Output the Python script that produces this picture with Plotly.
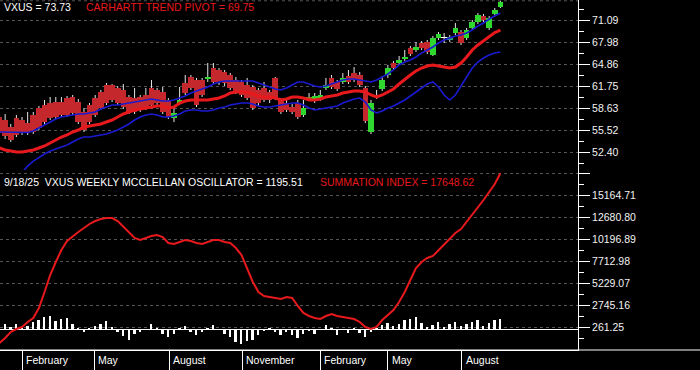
import pandas as pd
import plotly.graph_objects as go

# ---------------- data ----------------
week_dates = pd.date_range("2024-01-04", periods=90, freq="7D")

opens = [57.45, 57.03, 56.04, 57.31, 57.03, 56.60, 57.74, 58.73, 59.15, 59.44,
         59.58, 59.58, 60.14, 60.29, 59.58, 58.16, 59.15, 60.14, 60.99, 61.99,
         61.99, 61.56, 61.28, 60.29, 60.14, 60.29, 60.57, 61.56, 61.28, 60.99,
         59.86, 57.31, 59.44, 62.27, 63.12, 62.69, 62.69, 62.83, 64.39, 64.11,
         63.83, 63.40, 62.69, 62.41, 61.99, 61.70, 61.28, 61.56, 60.99, 62.98,
         59.86, 59.44, 58.87, 59.44, 57.74, 59.86, 59.72, 59.86, 61.56, 62.98,
         62.41, 62.41, 63.26, 63.68, 63.40, 61.56, 55.33, 60.29, 61.42, 63.40,
         65.10, 65.10, 65.67, 67.22, 66.94, 67.93, 68.07, 66.23, 68.64, 68.64,
         68.36, 69.35, 69.49, 68.64, 70.06, 70.90, 71.75, 70.06, 72.04, 73.03]
highs = [58.16, 57.88, 56.46, 57.74, 57.45, 58.16, 58.16, 59.01, 59.86, 60.29,
         60.29, 60.29, 60.43, 60.57, 60.00, 58.73, 59.44, 60.57, 61.28, 62.27,
         62.13, 61.84, 62.13, 60.57, 61.56, 60.57, 61.56, 62.69, 61.56, 61.70,
         60.14, 58.73, 61.70, 63.40, 63.40, 62.98, 62.98, 65.10, 65.10, 64.39,
         64.11, 63.68, 63.12, 62.69, 62.98, 61.99, 61.56, 62.41, 61.28, 63.12,
         60.14, 59.86, 59.29, 59.86, 59.86, 60.85, 60.85, 61.28, 62.98, 63.40,
         62.69, 63.68, 64.11, 64.53, 63.83, 61.84, 59.86, 61.28, 63.26, 64.82,
         65.38, 66.09, 66.94, 67.51, 68.07, 68.21, 68.36, 68.92, 69.49, 69.35,
         69.06, 70.76, 69.77, 70.06, 71.19, 72.18, 72.04, 71.75, 72.89, 73.88]
lows = [54.76, 54.34, 53.92, 54.62, 54.91, 54.91, 55.05, 55.61, 56.46, 57.03,
        57.17, 57.45, 57.45, 57.74, 56.46, 55.33, 56.46, 57.45, 58.45, 59.15,
        59.58, 59.15, 58.59, 57.88, 57.88, 58.16, 58.45, 58.87, 59.15, 57.88,
        57.17, 56.75, 59.15, 60.57, 61.28, 58.87, 60.29, 62.41, 62.13, 61.99,
        61.84, 61.28, 60.71, 60.29, 59.86, 58.45, 59.01, 59.58, 59.44, 59.86,
        57.88, 58.16, 57.88, 57.17, 57.45, 59.72, 59.44, 59.72, 61.28, 61.42,
        61.14, 62.13, 62.13, 62.41, 61.70, 56.60, 55.05, 60.00, 61.14, 62.98,
        64.11, 64.82, 65.38, 66.09, 66.66, 66.94, 66.37, 66.09, 68.36, 67.93,
        68.07, 69.06, 67.65, 68.36, 69.77, 70.62, 70.90, 69.77, 71.90, 72.89]
closes = [55.19, 54.76, 54.20, 54.91, 55.19, 55.19, 55.33, 55.90, 56.75, 57.31,
          57.45, 57.74, 57.74, 58.02, 56.75, 55.61, 56.75, 57.74, 58.73, 59.44,
          59.86, 59.44, 58.87, 58.16, 58.16, 58.45, 58.73, 59.15, 59.44, 58.16,
          57.45, 58.02, 59.86, 60.85, 61.56, 59.15, 60.57, 63.12, 62.41, 62.41,
          62.27, 61.56, 60.99, 60.57, 60.14, 58.73, 59.44, 59.86, 59.86, 60.29,
          58.16, 58.45, 58.16, 57.45, 58.73, 60.29, 60.43, 60.57, 61.99, 61.70,
          61.42, 62.98, 62.41, 62.69, 61.99, 56.89, 59.44, 60.57, 62.69, 64.39,
          64.39, 65.52, 65.95, 66.37, 67.37, 67.22, 66.66, 68.64, 69.21, 68.70,
          68.78, 70.06, 67.93, 69.77, 70.90, 71.90, 71.19, 71.47, 72.60, 73.73]
candle_kind = (["r"] * 31 + ["g", "g"] + ["r"] * 4 + ["g"] + ["r"] * 16 +
               ["g", "o", "g", "g", "g", "r", "r", "g", "r", "r", "r", "r", "g", "o",
                "g", "g", "r", "g", "g", "r", "g", "r", "r", "g", "g", "w", "t", "g",
                "r", "g", "g", "g", "r", "g", "g", "g"])

fast_line = [55.33, 55.33, 55.33, 55.33, 55.33, 55.26, 55.47, 55.90, 56.32, 56.75,
             57.17, 57.45, 57.60, 57.74, 57.88, 57.88, 58.02, 58.16, 58.59, 58.87,
             59.15, 59.15, 59.29, 59.44, 59.58, 59.72, 59.86, 60.00, 59.86, 59.72,
             59.72, 59.86, 60.14, 60.43, 60.85, 61.14, 61.42, 61.70, 62.13, 62.41,
             62.55, 62.55, 62.55, 62.55, 62.55, 62.55, 62.27, 61.99, 61.70, 61.42,
             61.28, 61.56, 61.99, 62.41, 62.41, 62.13, 61.84, 61.70, 61.84, 62.13,
             62.41, 62.69, 62.83, 62.83, 62.69, 62.55, 62.41, 62.69, 63.12, 63.54,
             64.11, 64.82, 65.24, 65.52, 65.95, 66.52, 66.94, 67.37, 67.93, 68.36,
             68.64, 68.92, 69.06, 69.35, 69.77, 70.34, 70.76, 71.33, 71.75, 72.18]
pivot_line = [53.06, 52.78, 52.64, 52.50, 52.50, 52.64, 52.78, 53.06, 53.35, 53.77,
              54.20, 54.62, 54.91, 55.33, 55.61, 56.04, 56.18, 56.32, 56.46, 56.75,
              57.03, 57.45, 57.88, 58.16, 58.45, 58.59, 58.73, 58.87, 59.01, 59.01,
              58.73, 58.87, 59.44, 59.72, 59.86, 59.86, 59.86, 59.86, 60.00, 60.14,
              60.43, 60.85, 60.99, 60.99, 60.99, 60.71, 60.43, 60.29, 60.29, 60.14,
              59.86, 60.00, 60.29, 60.29, 60.14, 59.86, 59.86, 60.00, 60.29, 60.43,
              60.57, 60.85, 60.99, 61.14, 61.14, 60.99, 60.57, 60.29, 60.57, 60.99,
              61.42, 62.13, 62.83, 63.40, 63.97, 64.39, 64.68, 64.82, 64.68, 64.53,
              64.39, 64.53, 65.10, 65.95, 66.94, 67.65, 68.21, 68.90, 69.40, 69.75]
slow_line = [47.10, 47.80, 48.50, 49.10, 49.60, 50.50, 51.20, 51.75, 52.21, 52.64,
             52.92, 53.21, 53.49, 53.92, 54.34, 54.62, 54.62, 54.76, 54.91, 55.05,
             55.33, 55.61, 56.04, 56.46, 57.03, 57.45, 57.74, 57.88, 57.74, 57.45,
             57.45, 57.60, 57.88, 58.30, 58.45, 58.45, 58.30, 58.30, 58.45, 58.73,
             58.87, 59.15, 59.29, 59.44, 59.44, 59.29, 59.01, 58.87, 58.87, 59.01,
             59.15, 59.29, 59.44, 59.44, 59.15, 58.73, 58.45, 58.59, 58.73, 58.87,
             59.01, 59.44, 59.72, 60.00, 60.14, 59.58, 58.45, 58.02, 58.30, 58.73,
             59.01, 59.44, 59.86, 60.43, 60.99, 61.56, 62.13, 62.41, 61.70, 60.57,
             59.86, 60.57, 61.84, 63.12, 64.39, 65.24, 65.81, 66.23, 66.52, 66.66]

summation = [-1511, -947, -269, 69, 295, 860, 1311, 2440, 4247, 6166,
             7634, 8989, 10005, 10569, 11021, 11472, 11924, 12262, 12488, 12601,
             12601, 12262, 11585, 10908, 10343, 10117, 10343, 10569, 10682, 10456,
             9779, 9666, 9892, 10117, 10005, 9779, 9666, 9892, 10117, 10117,
             9892, 9779, 9214, 8424, 6956, 5376, 4247, 3795, 3682, 3569,
             3456, 3682, 3569, 2666, 1876, 1537, 1311, 1198, 1537, 1763,
             1537, 1424, 1311, 1198, 860, 295, 69, 295, 1085, 1650,
             2214, 3118, 4247, 5601, 6956, 7634, 8085, 8311, 8989, 9666,
             10343, 10908, 11359, 12150, 12940, 13843, 14633, 15536, 16440, 17648.62]
oscillator = [450, 680, 340, 620, 230, 450, 900, 1130, 1470, 1580,
              1020, 1190, 1300, 680, 170, -280, 170, 450, 680, 960,
              280, -230, -680, -1130, -450, -230, 60, 680, 170, -450,
              -790, -450, 110, 450, -230, -560, -230, 170, 560, 60,
              -450, -790, -1350, -1580, -1240, -1130, -560, -170, 110, -230,
              -560, -230, -560, -900, -450, -60, -450, 60, 560, 110,
              -560, 60, -340, 110, -340, -790, -230, 170, 560, 790,
              400, 680, 1070, 1190, 1470, 790, 280, 560, 900, 280,
              680, 900, 450, 680, 900, 1130, 450, 790, 1070, 1195.51]

price_ticks = [52.40, 55.52, 58.63, 61.75, 64.86, 67.98, 71.09]
price_labels = ["52.40", "55.52", "58.63", "61.75", "64.86", "67.98", "71.09"]
osc_ticks = [261.25, 2745.16, 5229.07, 7712.98, 10196.89, 12680.80, 15164.71, 17648.62]
osc_labels = ["261.25", "2745.16", "5229.07", "7712.98", "10196.89", "12680.80", "15164.71", ""]

month_ticks = ["2024-02-01", "2024-05-01", "2024-08-02", "2024-11-01",
               "2025-02-06", "2025-05-01", "2025-08-01"]
month_labels = ["February", "May", "August", "November", "February", "May", "August"]

title_price = "VXUS = 73.73"
title_pivot = "CARHARTT TREND PIVOT = 69.75"
title_osc = "9/18/25  VXUS WEEKLY MCCLELLAN OSCILLATOR = 1195.51"
title_sum = "SUMMATION INDEX = 17648.62"

# ---------------- styles ----------------
FONT = "Liberation Sans, Arial, sans-serif"
FS = 10.5
RED = "#e8191c"
BLUE = "#1a1ad2"
GRID = "#555555"
kind_color = {"r": "#c4282c", "g": "#2fd82f", "o": "#8c7d22", "w": "#ffffff", "t": "#2aa37c"}
DAY_MS = 86400000

xs = [d.strftime("%Y-%m-%d") for d in week_dates]
body_base = [min(o, c) for o, c in zip(opens, closes)]
body_h = [max(abs(c - o), 0.07) for o, c in zip(opens, closes)]
body_col = [kind_color[k] for k in candle_kind]

wx, wy = [], []
for x, o, h, l, c in zip(xs, opens, highs, lows, closes):
    wx += [x, x, None, x, x, None]
    wy += [h, max(o, c), None, min(o, c), l, None]

fig = go.Figure()
fig.add_trace(go.Bar(x=xs, y=body_h, base=body_base, width=7.0 * DAY_MS,
                     marker=dict(color=body_col, line=dict(width=0)),
                     xaxis="x", yaxis="y", hoverinfo="skip"))
fig.add_trace(go.Scatter(x=wx, y=wy, mode="lines", line=dict(color="#e6e6e6", width=1),
                         connectgaps=False, xaxis="x", yaxis="y", hoverinfo="skip"))
fig.add_trace(go.Scatter(x=xs, y=slow_line, mode="lines", line=dict(color=BLUE, width=1.6),
                         xaxis="x", yaxis="y"))
fig.add_trace(go.Scatter(x=xs, y=pivot_line, mode="lines", line=dict(color=RED, width=3),
                         xaxis="x", yaxis="y"))
fig.add_trace(go.Scatter(x=xs, y=fast_line, mode="lines", line=dict(color=BLUE, width=1.6),
                         xaxis="x", yaxis="y"))
fig.add_trace(go.Bar(x=xs, y=oscillator, width=2.3 * DAY_MS,
                     marker=dict(color="#ffffff", line=dict(width=0)),
                     xaxis="x", yaxis="y2"))
fig.add_trace(go.Scatter(x=xs, y=summation, mode="lines", line=dict(color=RED, width=2),
                         xaxis="x", yaxis="y2"))


def mids(v):
    return [(a + b) / 2 for a, b in zip(v[:-1], v[1:])]


split = 180 / 350
axis_common = dict(side="right", anchor="x", ticks="outside", ticklen=11, tickwidth=1,
                   tickcolor="white", tickfont=dict(color="#f2f2f2", size=FS, family=FONT),
                   showline=True, linecolor="white", linewidth=1,
                   showgrid=True, gridcolor=GRID, griddash="3px,3px", gridwidth=1,
                   tickmode="array", fixedrange=True)

fig.update_layout(
    width=700, height=370,
    margin=dict(l=0, r=122, t=0, b=20),
    paper_bgcolor="black", plot_bgcolor="black",
    showlegend=False, barmode="overlay", bargap=0,
    font=dict(family=FONT, size=FS, color="white"),
    xaxis=dict(domain=[0, 1], anchor="y2", type="date",
               range=["2024-01-04 14:30", "2025-12-23 12:00"],
               tickmode="array", tickvals=month_ticks, ticks="outside", ticklen=20,
               tickcolor="white", tickwidth=1, showticklabels=False,
               showgrid=False, zeroline=False, showline=True, linecolor="white", linewidth=1),
    yaxis=dict(domain=[split, 1], range=[49.95, 74.02],
               tickvals=price_ticks, ticktext=price_labels, zeroline=False,
               minor=dict(tickmode="array", tickvals=mids([49.285] + price_ticks + [74.205]),
                          ticks="outside", ticklen=5, tickcolor="white", showgrid=False),
               **axis_common),
    yaxis2=dict(domain=[0, split], range=[-2302, 18020],
                tickvals=osc_ticks, ticktext=osc_labels,
                zeroline=True, zerolinecolor="white", zerolinewidth=1,
                minor=dict(tickmode="array", tickvals=mids([-2222.66] + osc_ticks),
                           ticks="outside", ticklen=5, tickcolor="white", showgrid=False),
                **axis_common),
)

# extended bottom axis line and dashed top border
fig.add_shape(type="line", xref="paper", yref="paper", x0=0, x1=700 / 578, y0=0, y1=0,
              line=dict(color="white", width=1), layer="above")
fig.add_shape(type="line", xref="paper", yref="paper", x0=0, x1=1, y0=1 - 0.8 / 350, y1=1 - 0.8 / 350,
              line=dict(color=GRID, width=1, dash="3px,3px"), layer="below")

ann = []
for d, lab in zip(month_ticks, month_labels):
    ann.append(dict(x=d, xref="x", y=-10 / 350, yref="paper", text=lab, showarrow=False,
                    xanchor="left", yanchor="middle", xshift=2,
                    font=dict(color="white", size=FS, family=FONT)))
ann += [
    dict(x=2 / 578, y=1 - 6.5 / 350, text=title_price, font=dict(color="white")),
    dict(x=84 / 578, y=1 - 6.5 / 350, text=title_pivot, font=dict(color=RED)),
    dict(x=2 / 578, y=1 - 181.5 / 350, text=title_osc, font=dict(color="white")),
    dict(x=318 / 578, y=1 - 181.5 / 350, text=title_sum, font=dict(color=RED)),
]
for a in ann[len(month_ticks):]:
    a.update(xref="paper", yref="paper", showarrow=False, xanchor="left", yanchor="middle")
    a["font"].update(size=FS, family=FONT)
fig.update_layout(annotations=ann)

fig.write_html("out.html")
